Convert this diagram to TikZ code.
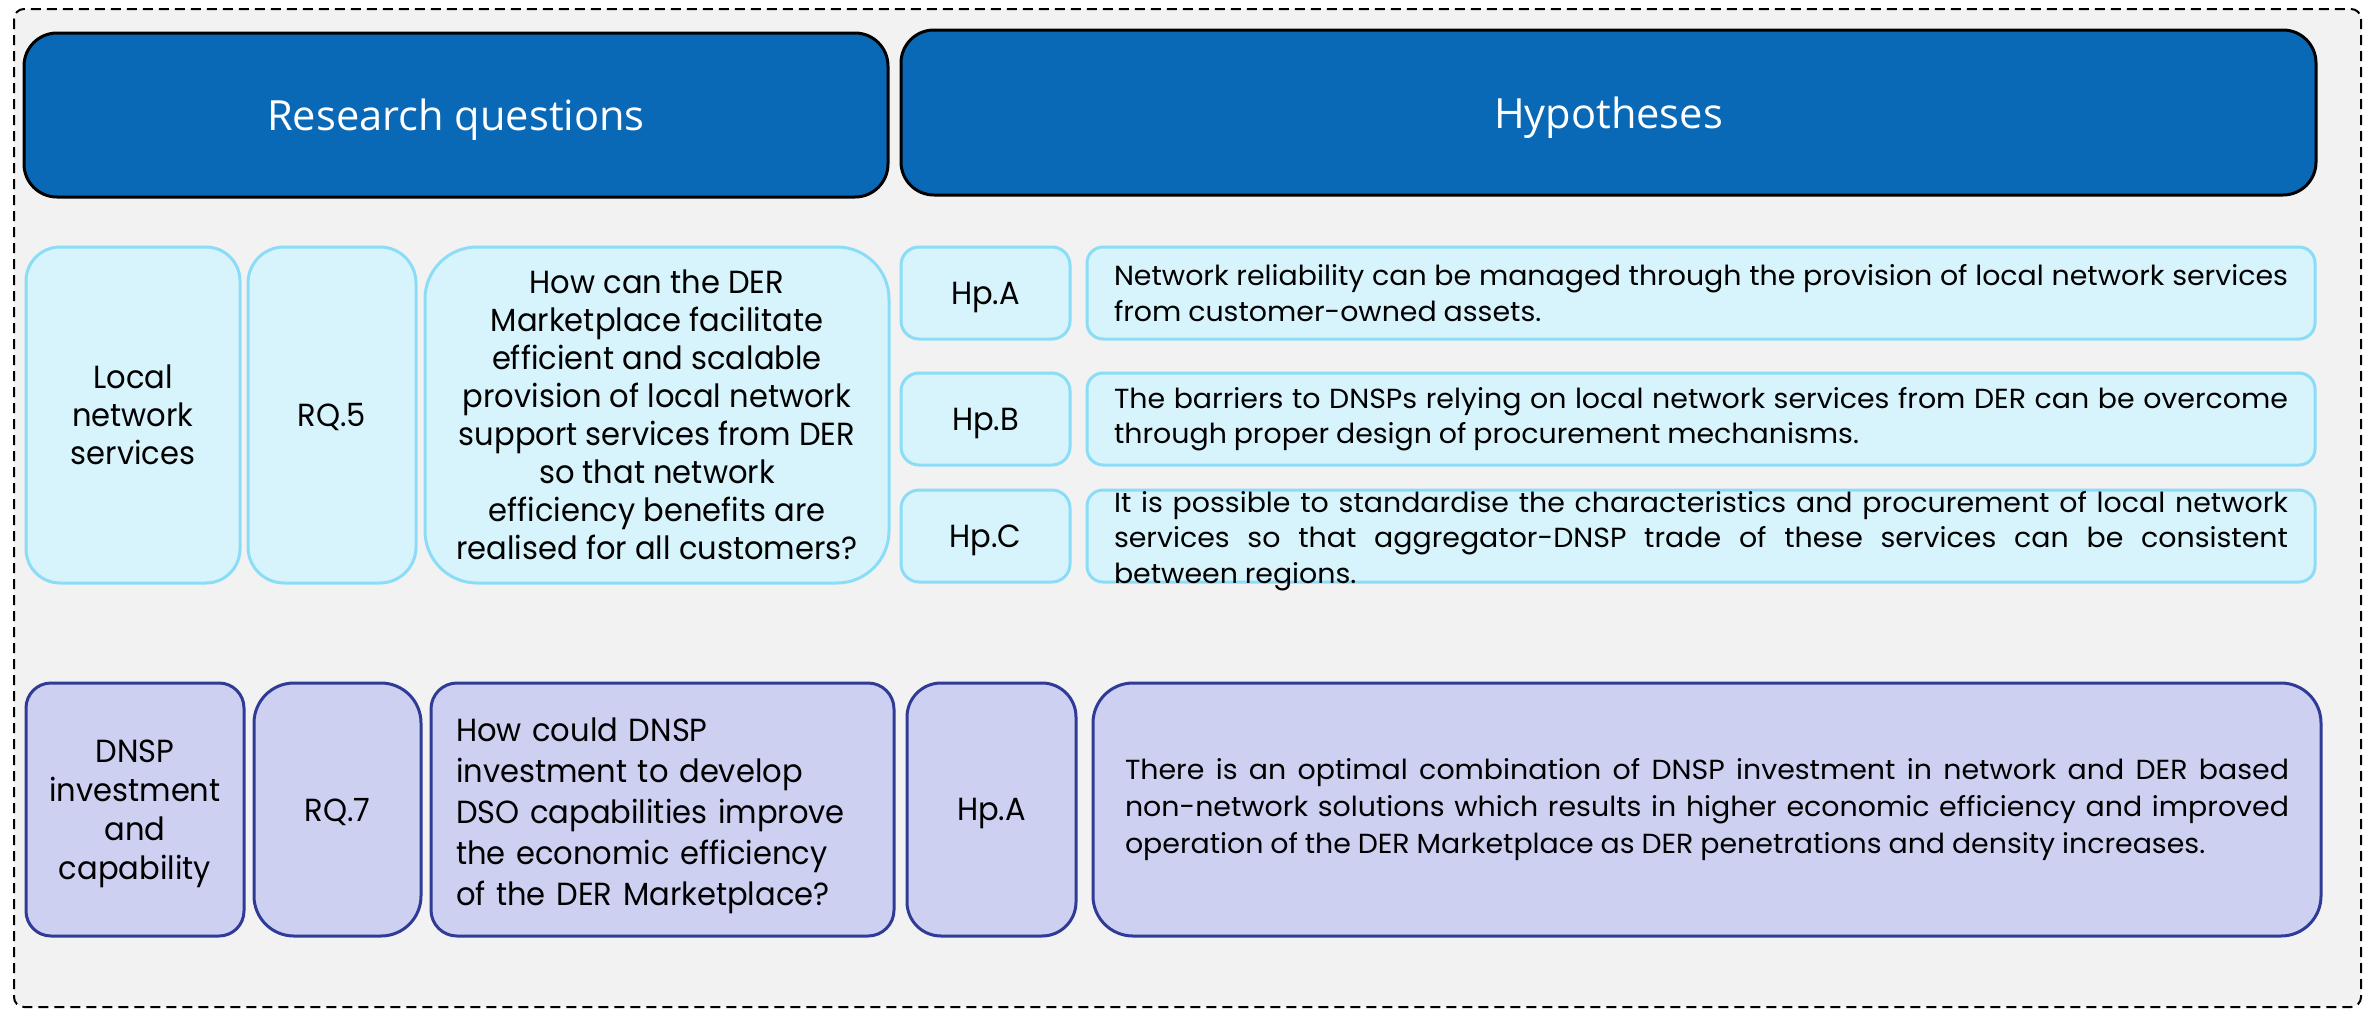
\documentclass[tikz,border=0pt]{standalone}
\usepackage{fontspec}
\setmainfont{Poppins}[FakeStretch=0.955]
\newfontfamily\hypfont{Poppins}[FakeStretch=1.03, WordSpace=0.9]
\newfontfamily\headfont{Open Sans}
\definecolor{bgGray}{HTML}{F2F2F2}
\definecolor{headBlue}{HTML}{0A69B6}
\definecolor{fillCyan}{HTML}{D7F3FC}
\definecolor{lineCyan}{HTML}{8BDDF7}
\definecolor{fillLav}{HTML}{CDD0F0}
\definecolor{lineIndigo}{HTML}{2F3B96}
\begin{document}
\begin{tikzpicture}[x=0.5pt,y=-0.5pt,
  frame/.style={draw=black, line width=1pt, dash pattern=on 5pt off 3pt, fill=bgGray, rounded corners=5pt},
  headbox/.style={draw=black, line width=1.5pt, fill=headBlue, text=white, inner sep=0pt, text depth=0pt,
    font=\headfont\fontsize{20.8}{24}\selectfont},
  cellA/.style={draw=lineCyan, fill=fillCyan, line width=1.5pt, inner sep=0pt, align=center, text depth=0pt,
    font=\fontsize{16}{19}\selectfont},
  cellB/.style={draw=lineIndigo, fill=fillLav, line width=1.5pt, inner sep=0pt, align=center, text depth=0pt,
    font=\fontsize{16}{19.5}\selectfont},
  hyptext/.style={inner sep=0pt, align=justify, font=\hypfont\fontsize{13.8}{17.6}\selectfont}]

\useasboundingbox (0,0) rectangle (2371,1012);
\fill[white] (0,0) rectangle (2371,1012);
\draw[frame] (14,9) rectangle (2361,1007);

% column headers
\node[headbox, minimum width=432pt, minimum height=82pt, rounded corners=16.5pt] (rqhead) at (456,115) {Research questions};
\node[headbox, minimum width=707.5pt, minimum height=82.5pt, rounded corners=16.5pt] (hphead) at (1608.5,112.5) {Hypotheses};

% local network services
\node[cellA, minimum width=107pt, minimum height=168pt, rounded corners=17pt] (area1) at (133,415) {Local\\network\\services};
\node[cellA, minimum width=84pt, minimum height=168pt, rounded corners=18pt] (rq5) at (332,415) {RQ.5};
\node[cellA, minimum width=232pt, minimum height=168pt, rounded corners=26pt] (q5) at (657,415)
  {How can the DER\\Marketplace facilitate\\efficient and scalable\\provision of local network\\support services from DER\\so that network\\efficiency benefits are\\realised for all customers?};

\node[cellA, minimum width=84.5pt, minimum height=46pt, rounded corners=9pt] (hpa1) at (985.5,293) {Hp.A};
\node[cellA, minimum width=614pt, minimum height=46pt, rounded corners=8pt] (ta1) at (1701,293) {};
\node[hyptext, text width=587pt] (ta1t) at (ta1.center)
  {Network reliability can be managed through the provision of local network services\linebreak from customer-owned assets.};

\node[cellA, minimum width=84.5pt, minimum height=46pt, rounded corners=9pt] (hpb1) at (985.5,419) {Hp.B};
\node[cellA, minimum width=614pt, minimum height=46pt, rounded corners=8pt] (tb1) at (1701,419) {};
\node[hyptext, text width=587pt] (tb1t) at (tb1.center)
  {The barriers to DNSPs relying on local network services from DER can be overcome\linebreak through proper design of procurement mechanisms.};

\node[cellA, minimum width=84.5pt, minimum height=46pt, rounded corners=9pt] (hpc1) at (985.5,536) {Hp.C};
\node[cellA, minimum width=614pt, minimum height=46pt, rounded corners=8pt] (tc1) at (1701,536) {};
\node[hyptext, text width=587pt, yshift=-2.5pt] (tc1t) at (tc1.center)
  {It is possible to standardise the characteristics and procurement of local network\linebreak services so that aggregator-DNSP trade of these services can be consistent\linebreak between regions.};

% DNSP investment and capability
\node[cellB, minimum width=109pt, minimum height=126.5pt, rounded corners=12.5pt] (area2) at (135,809.5) {DNSP\\investment\\and\\capability};
\node[cellB, minimum width=83.5pt, minimum height=126.5pt, rounded corners=20pt] (rq7) at (337.5,809.5) {RQ.7};
\node[cellB, minimum width=231.5pt, minimum height=126.5pt, rounded corners=13pt] (q7) at (662.5,809.5) {};
\node[inner sep=0pt, text width=206.5pt, align=left, yshift=-3pt, font=\fontsize{16}{20.5}\selectfont] (q7t) at (q7.center)
  {How could DNSP\\investment to develop\\DSO capabilities improve\\the economic efficiency\\of the DER Marketplace?};
\node[cellB, minimum width=84.5pt, minimum height=126.5pt, rounded corners=17pt] (hpa2) at (991.5,809.5) {Hp.A};
\node[cellB, minimum width=614pt, minimum height=126.5pt, rounded corners=20pt] (ta2) at (1707,809.5) {};
\node[hyptext, text width=582pt, font=\hypfont\fontsize{13.8}{18.7}\selectfont] (ta2t) at (ta2.center)
  {There is an optimal combination of DNSP investment in network and DER based\linebreak non-network solutions which results in higher economic efficiency and improved\linebreak operation of the DER Marketplace as DER penetrations and density increases.};
\end{tikzpicture}
\end{document}
